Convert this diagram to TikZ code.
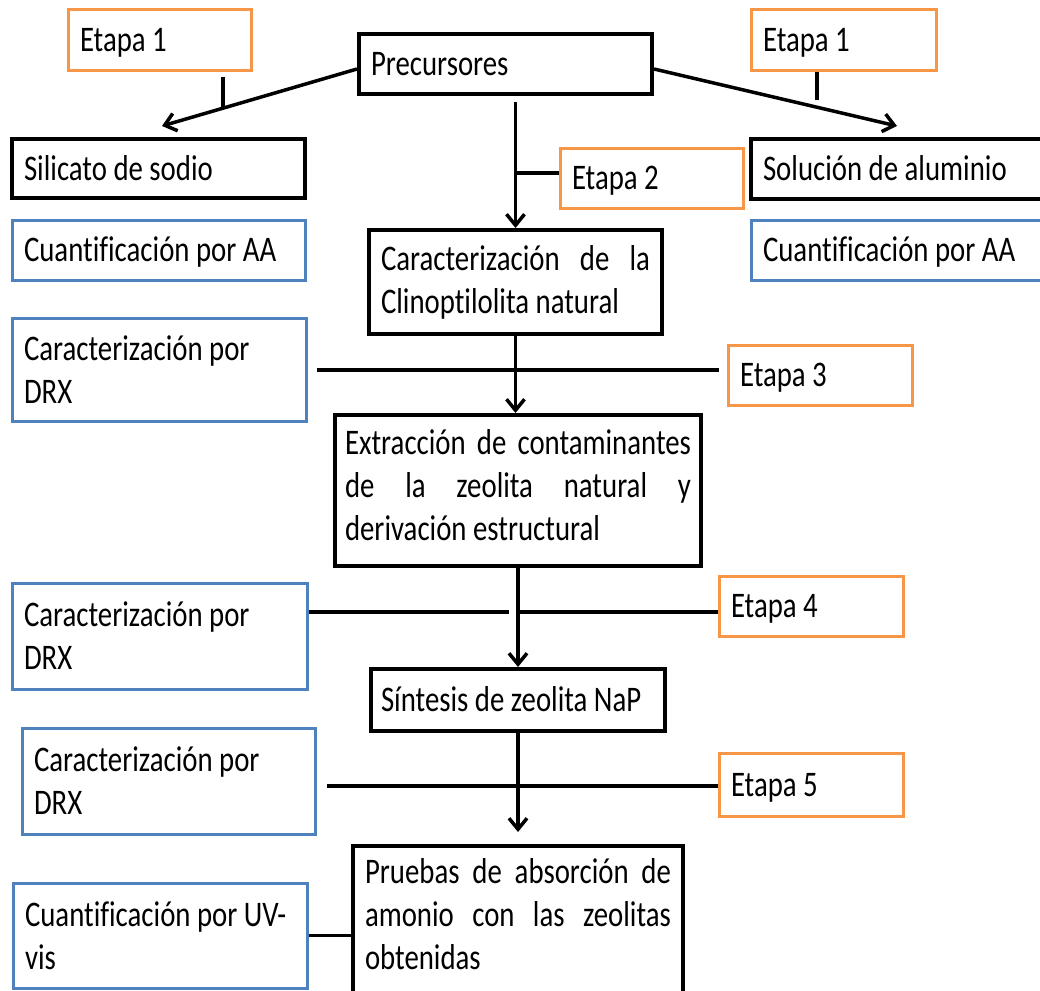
\documentclass[tikz,border=0pt]{standalone}
\usepackage{fontspec}
\setmainfont{Carlito}[FakeStretch=0.8, Ligatures=NoCommon]
\usepackage{xcolor}
\usepackage{tikz}
\usetikzlibrary{arrows.meta,positioning}

\definecolor{orangeline}{HTML}{F79646}
\definecolor{blueline}{HTML}{4F81BD}

\begin{document}
\begin{tikzpicture}[
    x=1pt, y=-1pt,
    every node/.style={font=\fontsize{36pt}{43pt}\selectfont, inner xsep=12pt, inner ysep=0pt, align=justify},
    blk/.style={draw=black, line width=4pt},
    blu/.style={draw=blueline, line width=3pt},
    org/.style={draw=orangeline, line width=3pt},
    oneline/.style={text height=23pt, text depth=0pt},
    link/.style={line width=3.5pt},
    arr/.style={link, -{Straight Barb[length=11pt,width=18pt]}}
]
\useasboundingbox (0,0) rectangle (1040,990);
\clip (0,0) rectangle (1040,990);

% Top row
\node[org, oneline, text width=159pt, minimum height=60pt] (etL) at (159.5,40) {Etapa 1};
\node[blk, oneline, text width=269pt, minimum height=60pt] (prec) at (505.5,64) {Precursores};
\node[org, oneline, text width=161pt, minimum height=60pt] (etR) at (843.5,40) {Etapa 1};

% Precursors
\node[blk, oneline, text width=269pt, minimum height=59pt] (sil) at (158.5,168.5) {Silicato de sodio};
\node[blk, oneline, text width=285pt, minimum height=60pt] (sol) at (905.5,169) {Solución de aluminio};
\node[blu, oneline, text width=269pt, minimum height=60pt] (aaL) at (158.5,250) {Cuantificación por AA};
\node[blu, oneline, text width=285pt, minimum height=60pt] (aaR) at (905.5,250) {Cuantificación por AA};

% Main column
\node[org, oneline, text width=159pt, minimum height=60pt] (et2) at (651.5,178) {Etapa 2};
\node[blk, text width=269pt, minimum height=104pt] (clino) at (515.5,282)
    {Caracterización de la\linebreak Clinoptilolita natural};
\node[blk, inner xsep=10pt, text width=346pt, text depth=98pt, minimum height=151pt] (extr) at (518,490.5)
    {Extracción de contaminantes\linebreak de la zeolita natural y\linebreak derivación estructural};
\node[blk, oneline, inner xsep=10pt, text width=274pt, minimum height=62pt] (nap) at (518,700) {Síntesis de zeolita NaP};
\node[blk, anchor=north, inner ysep=12pt, text width=306pt, text depth=150pt] (prueb) at (518,844)
    {Pruebas de absorción de\linebreak amonio con las zeolitas\linebreak obtenidas};

% Side boxes
\node[blu, text width=270pt, minimum height=103pt] (drx1) at (159,369.5) {Caracterización por\\DRX};
\node[org, oneline, text width=160pt, minimum height=60pt] (et3) at (820,375) {Etapa 3};
\node[blu, text width=271pt, minimum height=106pt] (drx2) at (159.5,636) {Caracterización por\\DRX};
\node[org, oneline, text width=160pt, minimum height=60pt] (et4) at (811,606) {Etapa 4};
\node[blu, text width=269pt, minimum height=106pt] (drx3) at (168.5,781) {Caracterización por\\DRX};
\node[org, oneline, text width=160pt, minimum height=63pt] (et5) at (811,784.5) {Etapa 5};
\node[blu, text width=270pt, minimum height=105pt] (uv) at (160,935.5) {Cuantificación por UV-\\vis};

% Junctions on the main line
\coordinate (j2) at (515.5,173);
\coordinate (j3) at (518,370);
\coordinate (j4) at (518,612);
\coordinate (j5) at (518,786);

% Arrows from precursors
\draw[arr] ([yshift=-5pt]prec.west) -- ([xshift=3.5pt,yshift=11pt]sil.north);
\draw[arr] ([yshift=-5pt]prec.east) -- ([xshift=-8.5pt,yshift=11pt]sol.north);
\draw[link] ([xshift=63.5pt,yshift=-5pt]etL.south) -- ++(0,31);
\draw[link] ([xshift=-26.5pt]etR.south) -- ++(0,28);

% Main flow
\draw[arr, shorten <=6pt] (prec.south -| clino.north) -- (clino.north);
\draw[link] (j2) -- (j2 -| et2.west);
\draw[arr] (clino.south) -- (clino.south |- extr.north);
\draw[link, shorten <=9pt, shorten >=8pt] (j3 -| drx1.east) -- (j3 -| et3.west);
\draw[arr] (extr.south) -- (nap.north);
\draw[link] (j4 -| drx2.east) -- ([xshift=-9pt]j4);
\draw[link] (j4) -- (j4 -| et4.west);
\draw[arr, shorten >=12pt] (nap.south) -- (nap.south |- prueb.north);
\draw[link, shorten <=10pt] (j5 -| drx3.east) -- (j5 -| et5.west);
\draw[link] (uv.east) -- (uv.east -| prueb.west);

\end{tikzpicture}
\end{document}
